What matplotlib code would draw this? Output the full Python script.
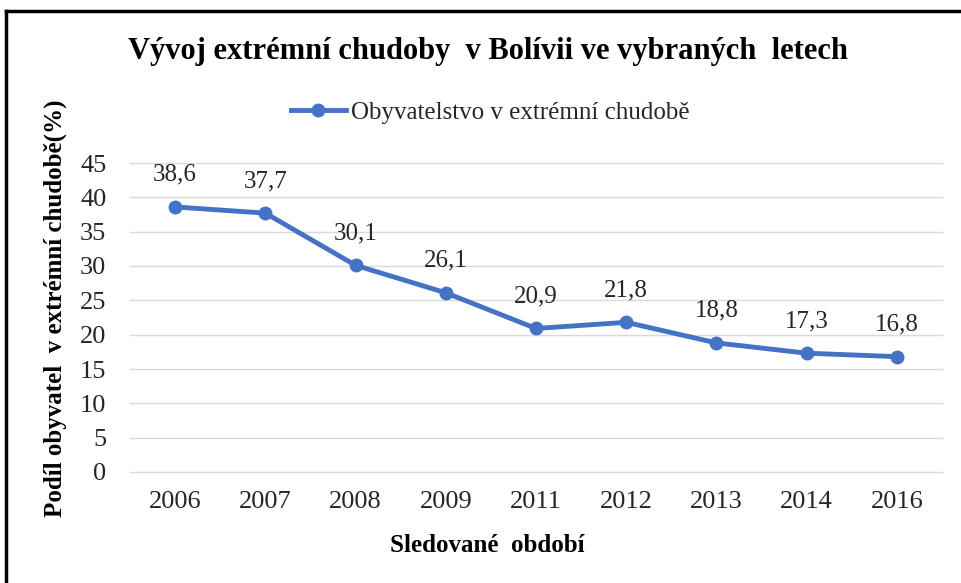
import matplotlib.pyplot as plt
from matplotlib.lines import Line2D

roky = ["2006", "2007", "2008", "2009", "2011", "2012", "2013", "2014", "2016"]
chudoba = [38.6, 37.7, 30.1, 26.1, 20.9, 21.8, 18.8, 17.3, 16.8]
popisky = ["38,6", "37,7", "30,1", "26,1", "20,9", "21,8", "18,8", "17,3", "16,8"]

plt.rcParams['font.family'] = ['Liberation Serif', 'DejaVu Serif']
modra = '#4472c4'
seda = '#262626'

fig = plt.figure(figsize=(9.62, 5.83), dpi=100)
ax = fig.add_axes([130/962, 1 - 472/583, (942-130)/962, (472-163)/583])

x = range(len(roky))
ax.plot(x, chudoba, '-o', color=modra, lw=3.5, ms=9, label='Obyvatelstvo v extrémní chudobě')
for i, (v, t) in enumerate(zip(chudoba, popisky)):
    ax.annotate(t, (i, v), xytext=(0, 32), textcoords='offset pixels',
                ha='center', va='center', fontsize=18, color=seda)

ax.set_xlim(-0.5, len(roky) - 0.5)
ax.set_ylim(0, 45)
ax.set_yticks(range(0, 46, 5))
ax.set_xticks(list(x))
ax.set_xticklabels(roky)
ax.tick_params(length=0, labelsize=19, colors=seda, pad=14)
ax.tick_params(axis='y', pad=17)
ax.grid(axis='y', color='#d9d9d9', lw=1)
for g in ax.get_ygridlines():
    g.set_clip_on(False)
ax.set_axisbelow(True)
for s in ax.spines.values():
    s.set_visible(False)

fig.text(488/962, 1 - 52/583, 'Vývoj extrémní chudoby  v Bolívii ve vybraných  letech',
         ha='center', va='center', fontsize=22, fontweight='bold')
fig.text(487/962, 1 - 545/583, 'Sledované  období', ha='center', va='center',
         fontsize=18, fontweight='bold')
fig.text(55/962, 1 - 308/583, 'Podíl obyvatel  v extrémní chudobě(%)', ha='center',
         va='center', rotation=90, fontsize=18, fontweight='bold')

h = Line2D([], [], color=modra, lw=3.5, marker='o', ms=9)
fig.legend([h], ['Obyvatelstvo v extrémní chudobě'], loc='center',
           bbox_to_anchor=(490/962, 1 - 113/583), frameon=False, fontsize=18,
           handlelength=2.2, handletextpad=0.2, labelcolor=seda)

# rámeček vlevo a nahoře
fig.add_artist(Line2D([6/962, 6/962], [0, 1 - 11/583], color='black', lw=2.5))
fig.add_artist(Line2D([6/962, 1], [1 - 11/583, 1 - 11/583], color='black', lw=2.5))

fig.savefig('out.png', dpi=100)
